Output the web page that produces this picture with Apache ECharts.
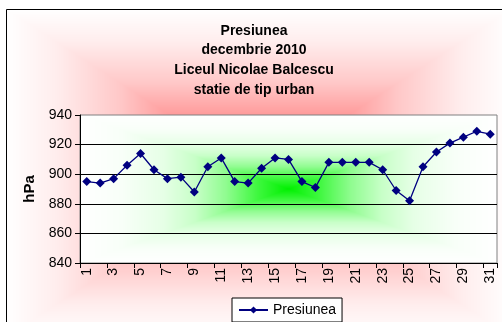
<!DOCTYPE html>
<html>
<head>
<meta charset="utf-8">
<script src="https://cdn.jsdelivr.net/npm/echarts@6/dist/echarts.min.js"></script>
<style>
  html, body { margin: 0; padding: 0; background: #fff; }
  #chart { width: 502px; height: 322px; }
</style>
</head>
<body>
<div id="chart"></div>
<script>
// Daily mean pressure, December 2010
const days = ['1','2','3','4','5','6','7','8','9','10','11','12','13','14','15','16',
              '17','18','19','20','21','22','23','24','25','26','27','28','29','30','31'];
const pressure = [895, 894, 897, 906, 914, 903, 897, 898, 888, 905, 911, 895, 894, 904, 911, 910,
                  895, 891, 908, 908, 908, 908, 903, 889, 882, 905, 915, 921, 925, 929, 927];
const titleLines = ['Presiunea', 'decembrie 2010', 'Liceul Nicolae Balcescu', 'statie de tip urban'];
const seriesName = 'Presiunea';
const yTicks = { min: 840, max: 940, step: 20 };

const FONT = '"Liberation Sans", Arial, sans-serif';

// Plot rectangle (pixels) and outer chart frame
const plot = { x: 80, y: 115, w: 417, h: 148 };
const frame = { x: 6, y: 9, w: 506, h: 328 };

function hexToRgb(h) {
  const n = parseInt(h.slice(1), 16);
  return [(n >> 16) & 255, (n >> 8) & 255, n & 255];
}

// Rectangular "from center" gradient painted into an offscreen canvas
function centerGradient(w, h, stops) {
  const c = document.createElement('canvas');
  c.width = w; c.height = h;
  const ctx = c.getContext('2d');
  const img = ctx.createImageData(w, h);
  const rs = stops.map(s => [s[0], hexToRgb(s[1])]);
  const cx = w / 2, cy = h / 2;
  for (let y = 0; y < h; y++) {
    for (let x = 0; x < w; x++) {
      const d = Math.min(1, Math.max(Math.abs(x + 0.5 - cx) / cx, Math.abs(y + 0.5 - cy) / cy));
      let i = 0;
      while (i < rs.length - 2 && d > rs[i + 1][0]) i++;
      const a = rs[i], b = rs[i + 1];
      const t = (d - a[0]) / (b[0] - a[0] || 1);
      const k = (y * w + x) * 4;
      for (let ch = 0; ch < 3; ch++) img.data[k + ch] = Math.round(a[1][ch] + (b[1][ch] - a[1][ch]) * t);
      img.data[k + 3] = 255;
    }
  }
  ctx.putImageData(img, 0, 0);
  return c;
}

const redFill = centerGradient(frame.w, frame.h, [
  [0, '#ff3a3a'], [0.35, '#ff9a9a'], [0.55, '#ffc8c8'], [0.8, '#ffeded'], [1, '#ffffff']
]);
const greenFill = centerGradient(plot.w, plot.h, [
  [0, '#00f000'], [0.15, '#40f840'], [0.3, '#90fc90'], [0.45, '#c8ffc8'],
  [0.6, '#e6ffe6'], [0.8, '#f8fff8'], [1, '#ffffff']
]);

const chart = echarts.init(document.getElementById('chart'), null, { renderer: 'canvas' });

chart.setOption({
  animation: false,
  backgroundColor: '#ffffff',
  textStyle: { fontFamily: FONT },
  graphic: [
    { type: 'image', left: frame.x, top: frame.y, z: -20, silent: true,
      style: { image: redFill, x: 0, y: 0, width: frame.w, height: frame.h } },
    { type: 'rect', z: -19, silent: true,
      shape: { x: frame.x + 0.5, y: frame.y + 0.5, width: frame.w, height: frame.h },
      style: { fill: 'none', stroke: '#000', lineWidth: 1 } },
    { type: 'image', left: plot.x, top: plot.y, z: -18, silent: true,
      style: { image: greenFill, x: 0, y: 0, width: plot.w, height: plot.h } },
    { type: 'text', x: 254, y: 21, z: 5, silent: true,
      style: { text: titleLines.join('\n'), font: 'bold 14px ' + FONT, fill: '#000',
               align: 'center', verticalAlign: 'top', lineHeight: 19.7 } }
  ],
  grid: {
    left: plot.x, top: plot.y, width: plot.w, height: plot.h,
    show: true, backgroundColor: 'transparent', borderColor: '#808080', borderWidth: 1
  },
  legend: {
    data: [seriesName],
    left: 232, top: 298,
    padding: [5, 6, 5, 6],
    backgroundColor: '#ffffff',
    borderColor: '#000', borderWidth: 1, borderRadius: 0,
    itemWidth: 29, itemHeight: 9,
    textStyle: { fontSize: 14, color: '#000', fontFamily: FONT }
  },
  xAxis: {
    type: 'category',
    data: days,
    boundaryGap: true,
    axisLine: { lineStyle: { color: '#000', width: 1 } },
    axisTick: { show: true, length: 5, lineStyle: { color: '#000' } },
    axisLabel: { interval: 1, rotate: 90, margin: 5, fontSize: 14, color: '#000', fontFamily: FONT },
    splitLine: { show: false }
  },
  yAxis: {
    type: 'value',
    min: yTicks.min, max: yTicks.max, interval: yTicks.step,
    name: 'hPa', nameLocation: 'middle', nameGap: 38, nameRotate: 90,
    nameTextStyle: { fontSize: 15, fontWeight: 'bold', color: '#000', fontFamily: FONT },
    axisLine: { show: true, lineStyle: { color: '#000', width: 1 } },
    axisTick: { show: true, length: 5, lineStyle: { color: '#000' } },
    axisLabel: { margin: 8, fontSize: 14, color: '#000', fontFamily: FONT },
    splitLine: { show: true, showMinLine: false, showMaxLine: false, lineStyle: { color: '#000', width: 1 } }
  },
  series: [{
    name: seriesName,
    type: 'line',
    data: pressure,
    symbol: 'diamond',
    symbolSize: 9,
    showAllSymbol: true,
    itemStyle: { color: '#000080' },
    lineStyle: { color: '#000080', width: 1.3 },
    z: 3
  }]
});
</script>
</body>
</html>
